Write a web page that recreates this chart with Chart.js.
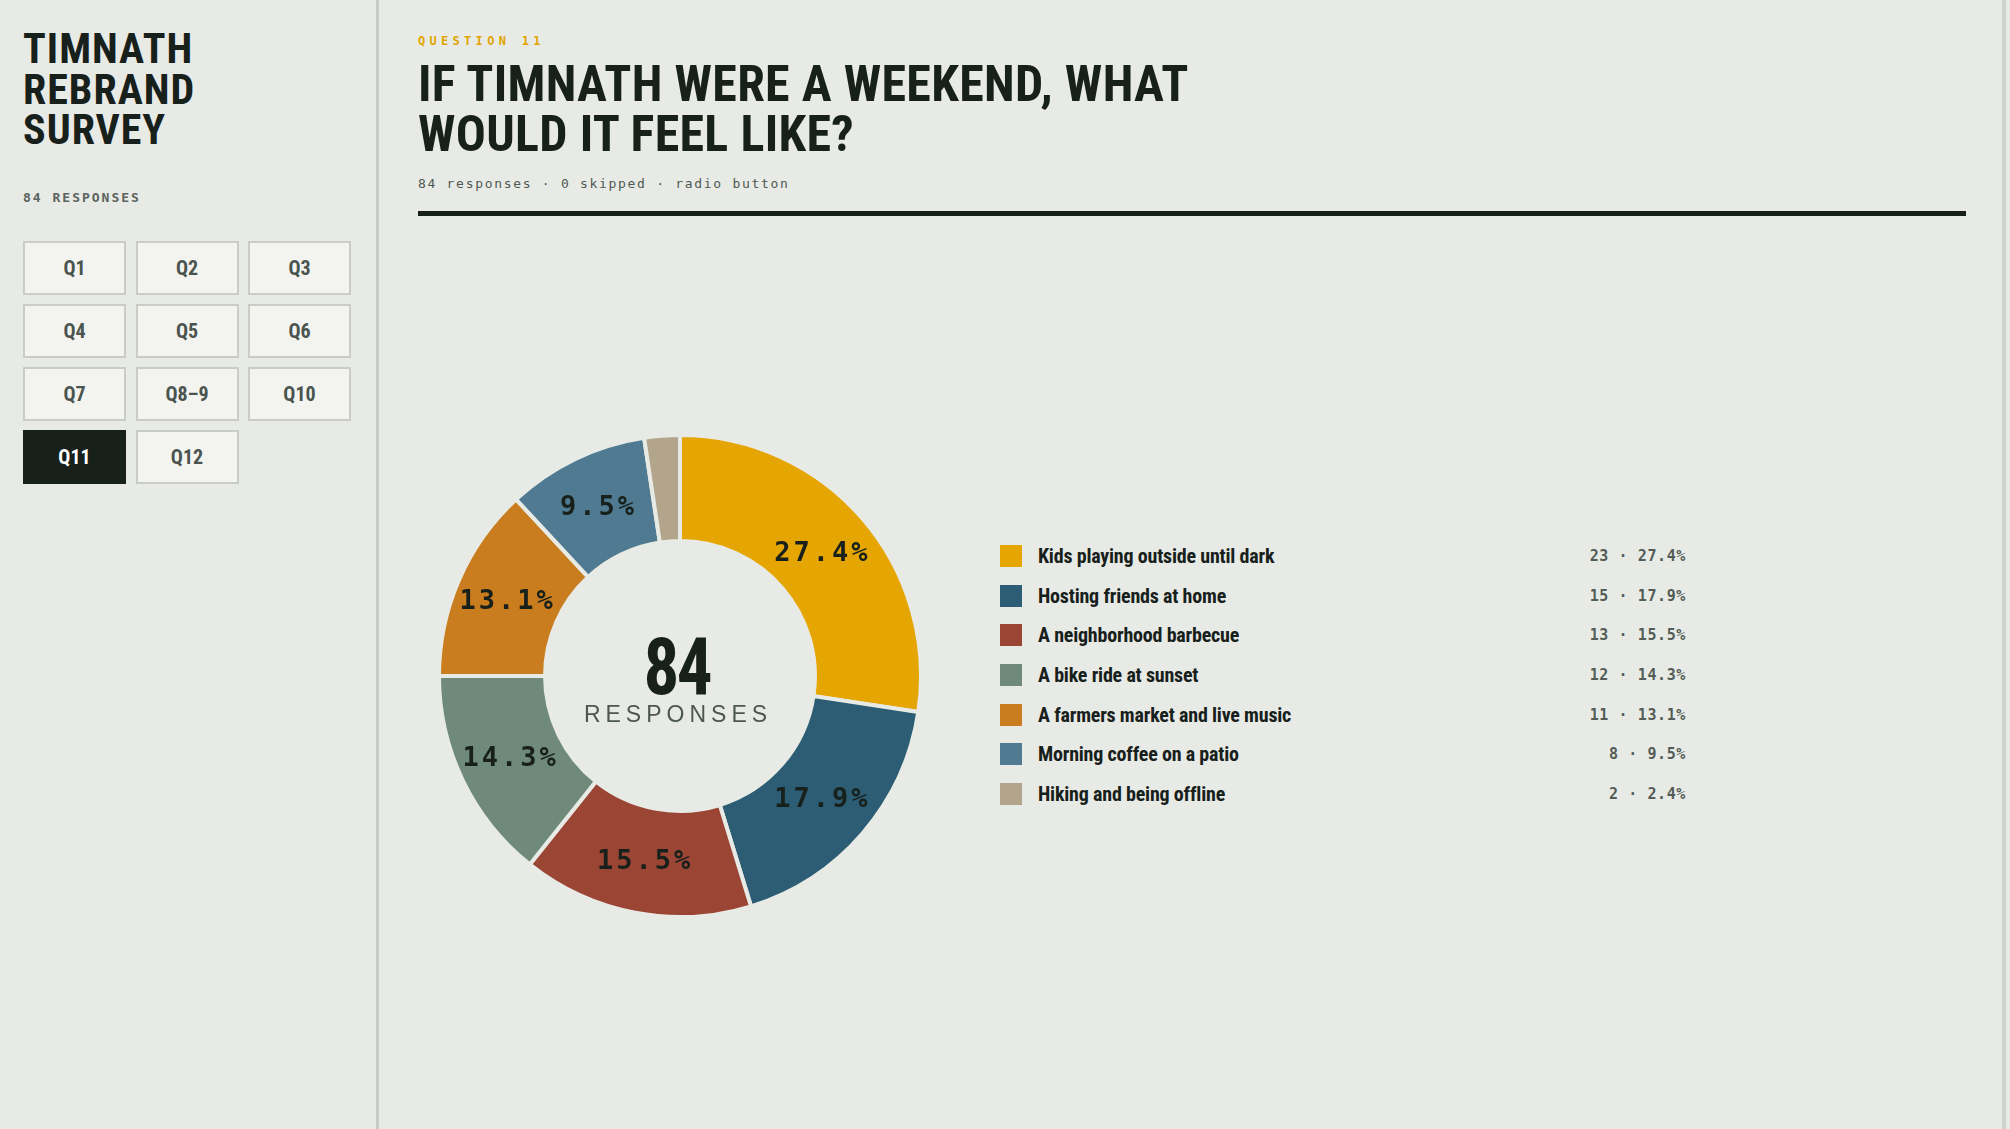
<!DOCTYPE html>
<html>
<head>
<meta charset="utf-8">
<script src="https://cdn.jsdelivr.net/npm/chart.js@4.4.1/dist/chart.umd.min.js"></script>
<style>
  html, body { margin: 0; padding: 0; }
  body {
    width: 2010px; height: 1129px; overflow: hidden; position: relative;
    background: #e8ebe5; color: #17201b;
    font-family: "Liberation Sans Narrow", "Roboto Condensed", "DejaVu Sans Condensed", sans-serif;
  }
  .narrow { font-family: "Liberation Sans Narrow", "Roboto Condensed", "DejaVu Sans Condensed", sans-serif; font-weight: 700; }
  .mono { font-family: "DejaVu Sans Mono", "Liberation Mono", monospace; }
  #sidebar {
    position: absolute; left: 0; top: 0; width: 376px; height: 1129px;
    border-right: 3px solid #c7cbc4;
  }
  #brand {
    position: absolute; left: 23px; top: 29px; margin: 0;
    font-size: 42px; line-height: 40.5px; letter-spacing: 1px;
  }
  #count {
    position: absolute; left: 23px; top: 190px;
    font-size: 13px; letter-spacing: 2px; color: #5a635e; font-weight: 700;
  }
  .qbtn {
    position: absolute; width: 99px; height: 50px;
    border: 2px solid #c9cdc6; background: #f3f4f0; color: #4a534e;
    font-size: 20px; line-height: 50px; text-align: center;
  }
  .qbtn.active { background: #17201b; border-color: #17201b; color: #fff; }
  #rightEdge { position: absolute; left: 2002px; top: 0; width: 4px; height: 1129px; background: #cfd2cc; }
  #kicker {
    position: absolute; left: 418px; top: 34px;
    font-size: 12px; letter-spacing: 4.3px; color: #e0a400; font-weight: 700;
  }
  #title {
    position: absolute; left: 418px; top: 60px; margin: 0;
    font-size: 50px; line-height: 49.5px; letter-spacing: 0.3px;
  }
  #meta {
    position: absolute; left: 418px; top: 176px;
    font-size: 13px; letter-spacing: 1.7px; color: #4f5853;
  }
  #rule { position: absolute; left: 418px; top: 211px; width: 1548px; height: 5px; background: #17201b; }
  #donutWrap { position: absolute; left: 437px; top: 433px; width: 486px; height: 486px; }
  #legend { position: absolute; left: 1000px; top: 536px; width: 686px; }
  .row { position: relative; height: 39.7px; display: flex; align-items: center; }
  .sw { width: 22px; height: 22px; flex: none; }
  .lab { margin-left: 16px; font-size: 20px; letter-spacing: -0.2px; }
  .val { position: absolute; right: 0; font-size: 15px; letter-spacing: 0.6px; color: #535c57; font-weight: 700; }
</style>
</head>
<body>
<div id="sidebar">
  <h1 id="brand" class="narrow">TIMNATH<br>REBRAND<br>SURVEY</h1>
  <div id="count" class="mono">84 RESPONSES</div>
  <div id="buttons"></div>
</div>
<div id="rightEdge"></div>

<div id="kicker" class="mono">QUESTION 11</div>
<h2 id="title" class="narrow">IF TIMNATH WERE A WEEKEND, WHAT<br>WOULD IT FEEL LIKE?</h2>
<div id="meta" class="mono">84 responses · 0 skipped · radio button</div>
<div id="rule"></div>

<div id="donutWrap"><canvas id="donut" width="486" height="486"></canvas></div>
<div id="legend"></div>

<script>
// survey answers for question 11
const categories = [
  'Kids playing outside until dark',
  'Hosting friends at home',
  'A neighborhood barbecue',
  'A bike ride at sunset',
  'A farmers market and live music',
  'Morning coffee on a patio',
  'Hiking and being offline'
];
const responses = [23, 15, 13, 12, 11, 8, 2];
const sliceColors = ['#e5a502', '#2c5d74', '#9b4535', '#6f8a7b', '#c97d1f', '#4f7a92', '#b3a48c'];

const questions = ['Q1', 'Q2', 'Q3', 'Q4', 'Q5', 'Q6', 'Q7', 'Q8–9', 'Q10', 'Q11', 'Q12'];
const currentQuestion = 'Q11';

const total = responses.reduce((a, b) => a + b, 0);
const pct = v => (v / total * 100).toFixed(1);

// sidebar nav
const btnBox = document.getElementById('buttons');
questions.forEach((q, i) => {
  const b = document.createElement('div');
  b.className = 'qbtn narrow' + (q === currentQuestion ? ' active' : '');
  b.style.left = (23 + (i % 3) * 112.5) + 'px';
  b.style.top = (241 + Math.floor(i / 3) * 63) + 'px';
  b.textContent = q;
  btnBox.appendChild(b);
});

// legend list
const legend = document.getElementById('legend');
categories.forEach((c, i) => {
  const row = document.createElement('div');
  row.className = 'row';
  row.innerHTML = `<span class="sw" style="background:${sliceColors[i]}"></span>` +
    `<span class="lab narrow">${c}</span>` +
    `<span class="val mono">${responses[i]} · ${pct(responses[i])}%</span>`;
  legend.appendChild(row);
});

const BG = '#e8ebe5';

const sliceLabels = {
  id: 'sliceLabels',
  afterDatasetsDraw(chart) {
    const ctx = chart.ctx;
    const meta = chart.getDatasetMeta(0);
    ctx.save();
    ctx.font = 'bold 27px "DejaVu Sans Mono", monospace';
    ctx.letterSpacing = '3px';
    ctx.fillStyle = '#17201b';
    ctx.textAlign = 'center';
    ctx.textBaseline = 'middle';
    meta.data.forEach((arc, i) => {
      if (responses[i] / total < 0.05) return;
      const p = arc.getCenterPoint();
      ctx.fillText(pct(responses[i]) + '%', p.x, p.y + 1);
    });
    ctx.restore();
  }
};

const centerText = {
  id: 'centerText',
  afterDraw(chart) {
    const ctx = chart.ctx;
    const arc = chart.getDatasetMeta(0).data[0];
    const cx = arc.x, cy = arc.y;
    ctx.save();
    ctx.textAlign = 'center';
    ctx.textBaseline = 'alphabetic';
    ctx.fillStyle = '#17201b';
    ctx.font = 'bold 79px "Liberation Sans Narrow", "Roboto Condensed", sans-serif';
    ctx.save();
    ctx.translate(cx - 2, cy + 18);
    ctx.scale(0.9, 1);
    ctx.letterSpacing = '-3px';
    ctx.fillText(String(total), -1.5, 0);
    ctx.restore();
    ctx.fillStyle = '#4d5652';
    ctx.font = '23px "Liberation Sans", "DejaVu Sans", sans-serif';
    ctx.letterSpacing = '5px';
    ctx.fillText('RESPONSES', cx - 2, cy + 46);
    ctx.restore();
  }
};

new Chart(document.getElementById('donut'), {
  type: 'doughnut',
  data: {
    labels: categories,
    datasets: [{
      data: responses,
      backgroundColor: sliceColors,
      borderColor: BG,
      borderWidth: 4,
      borderJoinStyle: 'miter'
    }]
  },
  options: {
    responsive: false,
    animation: false,
    cutout: '56%',
    layout: { padding: 0 },
    plugins: {
      legend: { display: false },
      tooltip: { enabled: false }
    }
  },
  plugins: [sliceLabels, centerText]
});
</script>
</body>
</html>
